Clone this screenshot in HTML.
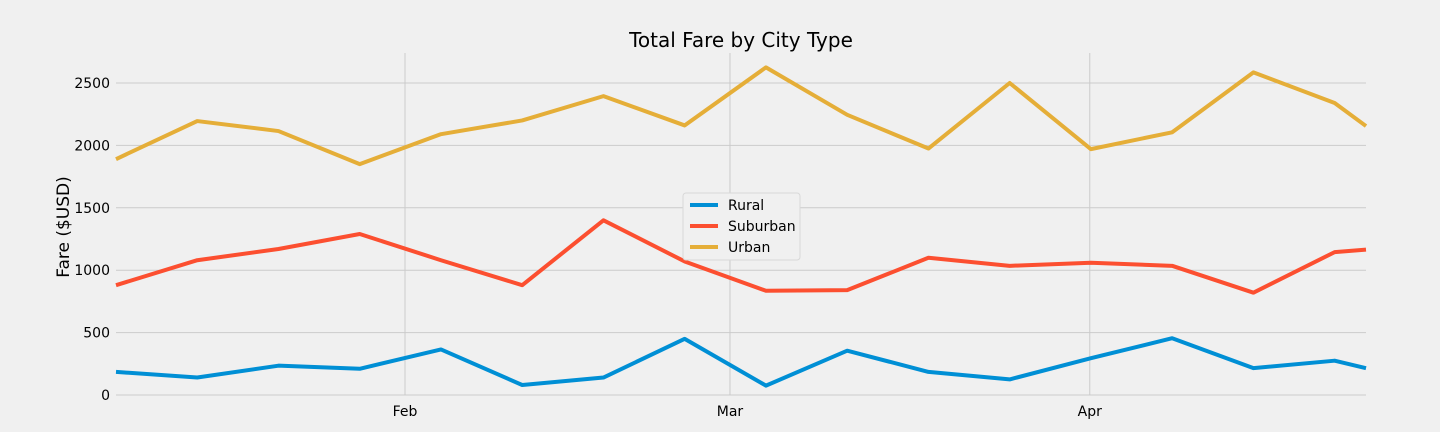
<!DOCTYPE html>
<html><head><meta charset="utf-8"><style>
html,body{margin:0;padding:0;background:#f0f0f0;}
svg{display:block;font-family:"DejaVu Sans","Liberation Sans",sans-serif;}
</style></head><body>
<svg id="chart" width="1440" height="432">
<rect width="1440" height="432" fill="#f0f0f0"/>
<g id="grid"></g><g id="series"></g><g id="axes"></g>
<text x="741" y="47" text-anchor="middle" font-size="20" fill="#000">Total Fare by City Type</text>
<text transform="translate(69,227) rotate(-90)" text-anchor="middle" font-size="17" fill="#000">Fare ($USD)</text>
<g>
<rect x="683" y="193" width="117" height="67" rx="3" fill="#f0f0f0" stroke="#d8d8d8"/>
<line x1="690" x2="718" y1="205" y2="205" stroke="#008fd5" stroke-width="4"/>
<text x="728" y="210" font-size="14">Rural</text>
<line x1="690" x2="718" y1="226" y2="226" stroke="#fc4f30" stroke-width="4"/>
<text x="728" y="231" font-size="14">Suburban</text>
<line x1="690" x2="718" y1="247" y2="247" stroke="#e5ae38" stroke-width="4"/>
<text x="728" y="252" font-size="14">Urban</text>
</g>
</svg>
<script>
const dayOffsets=[0,7,14,21,28,35,42,49,56,63,70,77,84,91,98,105,107.7];
const rural=[185,140,235,210,365,80,140,450,75,355,185,125,295,455,215,275,215];
const suburban=[880,1080,1170,1290,1080,880,1400,1070,835,840,1100,1035,1060,1035,820,1145,1165];
const urban=[1890,2195,2115,1850,2090,2200,2395,2160,2625,2245,1975,2500,1970,2105,2585,2340,2155];
const yTicks=[0,500,1000,1500,2000,2500];
const monthLabels=["Feb","Mar","Apr"];
const monthDays=[24.9,52.9,83.9];
const NS="http://www.w3.org/2000/svg";
const X0=116,X1=1366,DMAX=107.7,Y0=395,YPX=312/2500;
const sx=d=>X0+(X1-X0)*d/DMAX;
const sy=v=>Y0-v*YPX;
function mk(tag,attrs,parent){const e=document.createElementNS(NS,tag);for(const k in attrs)e.setAttribute(k,attrs[k]);parent.appendChild(e);return e;}
const grid=document.getElementById('grid'),axes=document.getElementById('axes'),ser=document.getElementById('series');
yTicks.forEach(t=>{
 const l=mk('line',{x1:X0,x2:X1,y1:sy(t),y2:sy(t),stroke:'#cbcbcb','stroke-width':1},grid);
 
 
 const tx=mk('text',{x:X0-6,y:sy(t)+5,'text-anchor':'end','font-size':14},axes);
 tx.textContent=t;
 
 
});
monthDays.forEach((d,i)=>{
 const l=mk('line',{x1:sx(d),x2:sx(d),y1:53,y2:Y0,stroke:'#cbcbcb','stroke-width':1},grid);
 
 
 const tx=mk('text',{x:sx(d),y:416,'text-anchor':'middle','font-size':14},axes);
 tx.textContent=monthLabels[i];
 
 
});
[[rural,'#008fd5','rural-line'],[suburban,'#fc4f30','suburban-line'],[urban,'#e5ae38','urban-line']].forEach(([vals,c,n])=>{
 const p=mk('polyline',{points:vals.map((v,i)=>sx(dayOffsets[i])+','+sy(v)).join(' '),fill:'none',stroke:c,'stroke-width':4,'stroke-linejoin':'round'},ser);
 
 
});
</script>
</body></html>
